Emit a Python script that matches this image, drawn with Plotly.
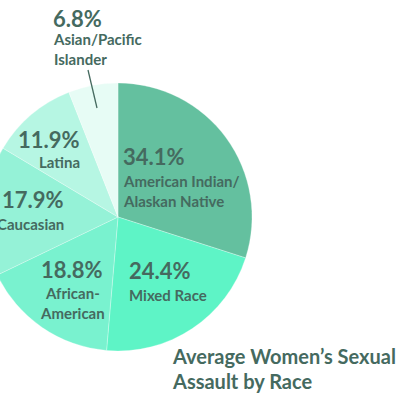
import plotly.graph_objects as go

categories = ["American Indian/<br>Alaskan Native", "Mixed Race", "African-<br>American",
              "Caucasian", "Latina", "Asian/Pacific<br>Islander"]
values = [34.1, 24.4, 18.8, 17.9, 11.9, 6.8]
colors = ["#64c09f", "#5ef4c6", "#79f2cf", "#95f2d7", "#b6f6e3", "#e7fcf5"]
title_lines = ["Average Women\u2019s Sexual", "Assault by Race"]

SHIFT = 16
W, H = 399 + SHIFT, 399
TXT = "#456a5f"
FONT = "Lato"

def px(x):
    return (x + SHIFT) / W

def py(y):
    return 1 - y / H

# pie geometry (screen px)
cx, cy, r = 118, 217, 134

fig = go.Figure(go.Pie(
    labels=[c.replace("<br>", " ") for c in categories],
    values=values,
    sort=False,
    direction="clockwise",
    rotation=0,
    textinfo="none",
    marker=dict(colors=colors, line=dict(color="rgba(255,255,255,0.35)", width=0.8)),
    domain=dict(x=[px(cx - r), px(cx + r)], y=[py(cy + r), py(cy - r)]),
    showlegend=False,
))

# label placement: (pct x, pct y, label x, label y, anchor)
place = [
    (122, 157, 122, 191, "left"),
    (128, 270, 128, 295, "left"),
    (72, 269, 72, 303, "center"),
    (65, 199, 65, 224, "right"),
    (81, 139, 81, 162, "right"),
    (52, 18, 52, 49, "left"),
]

ann = []
for cat, v, (x1, y1, x2, y2, anc) in zip(categories, values, place):
    ann.append(dict(x=px(x1), y=py(y1), xref="paper", yref="paper", text=f"<b>{v}%</b>",
                    showarrow=False, xanchor=anc, yanchor="middle", align=anc, borderpad=0,
                    font=dict(family=FONT, size=22, color=TXT, weight=900)))
    ann.append(dict(x=px(x2), y=py(y2), xref="paper", yref="paper", text=f"<b>{cat}</b>",
                    showarrow=False, xanchor=anc, yanchor="middle", align=anc, borderpad=0,
                    font=dict(family=FONT, size=15, color=TXT, weight=900)))

for i, line in enumerate(title_lines):
    ann.append(dict(x=px(171), y=py(356 + 25 * i), xref="paper", yref="paper",
                    text=f"<b>{line}</b>", showarrow=False, xanchor="left", yanchor="middle",
                    borderpad=0, font=dict(family=FONT, size=20, color=TXT, weight=900)))

fig.update_layout(
    width=W, height=H,
    margin=dict(l=0, r=0, t=0, b=0),
    paper_bgcolor="white", plot_bgcolor="white",
    annotations=ann,
    shapes=[dict(type="line", xref="paper", yref="paper",
                 x0=px(88), y0=py(70), x1=px(97), y1=py(108),
                 line=dict(color=TXT, width=1.3))],
)

post = ("document.body.style.margin='0';document.body.style.overflow='hidden';"
        "document.getElementById('{plot_id}').style.marginLeft='-%dpx';" % SHIFT)
fig.write_html("out.html", post_script=post, config={"displayModeBar": False})
